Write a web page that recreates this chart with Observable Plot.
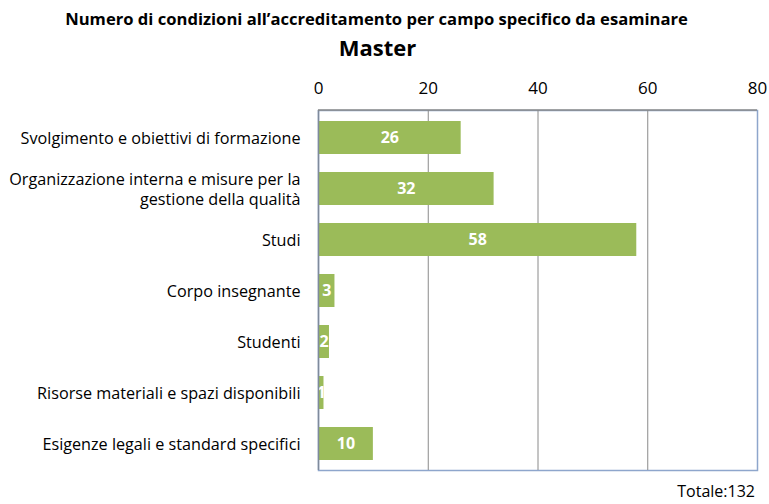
<!DOCTYPE html>
<html><head><meta charset="utf-8">
<script src="https://cdn.jsdelivr.net/npm/d3@7"></script>
<script src="https://cdn.jsdelivr.net/npm/@observablehq/plot@0.6"></script>
<style>
body{margin:0;background:#fff;font-family:"Open Sans",sans-serif;}
#t1{position:absolute;left:-8px;top:9px;width:769px;text-align:center;font-weight:bold;font-size:16.6px;line-height:20px;color:#000;white-space:nowrap;}
#t2{position:absolute;left:-7px;top:34px;width:769px;text-align:center;font-weight:bold;font-size:22px;line-height:26px;color:#000;}
#chart{position:absolute;left:0;top:60px;}
#tot{position:absolute;right:14px;top:483px;font-size:16px;line-height:17px;color:#000;}
</style></head>
<body>
<div id="t1">Numero di condizioni all’accreditamento per campo specifico da esaminare</div>
<div id="t2">Master</div>
<div id="chart"></div>
<div id="tot">Totale:132</div>
<script>
const categories = [
  "Svolgimento e obiettivi di formazione",
  "Organizzazione interna e misure per la\ngestione della qualità",
  "Studi",
  "Corpo insegnante",
  "Studenti",
  "Risorse materiali e spazi disponibili",
  "Esigenze legali e standard specifici"
];
const values = [26, 32, 58, 3, 2, 1, 10];
const xTicks = [0, 20, 40, 60, 80];

const data = categories.map((c, i) => ({cat: c, v: values[i]}));

const chart = Plot.plot({
  width: 769,
  height: 420,
  marginTop: 50,
  marginBottom: 10,
  marginLeft: 318,
  marginRight: 12,
  style: {fontFamily: "'Open Sans', sans-serif", background: "#fff", color: "#000"},
  x: {domain: [0, 80], ticks: xTicks},
  y: {domain: categories, paddingInner: 0.36, paddingOuter: 0.18},
  marks: [
    Plot.frame({stroke: "#8EA6CC", strokeWidth: 1.5}),
    Plot.ruleX([20, 40, 60], {stroke: "#8a8a8a", strokeWidth: 1}),
    Plot.barX(data, {x: "v", y: "cat", fill: "#9BBB59"}),
    Plot.text(data, {x: d => d.v / 2, y: "cat", text: d => String(d.v), fill: "#fff", fontWeight: "bold", fontSize: 16}),
    Plot.ruleX([0], {stroke: "#7f8a9c", strokeWidth: 1.5}),
    Plot.axisX({anchor: "top", ticks: xTicks, tickSize: 0, tickPadding: 17, fontSize: 17, label: null}),
    Plot.axisY({anchor: "left", tickSize: 0, tickPadding: 18, fontSize: 16.2, label: null, lineHeight: 1.23})
  ]
});
document.getElementById("chart").appendChild(chart);

// gray top edge of the plot frame
const xs = chart.scale("x");
d3.select(chart).append("line")
  .attr("x1", xs.apply(0)).attr("x2", xs.apply(80))
  .attr("y1", 50).attr("y2", 50)
  .attr("stroke", "#8a8a8a").attr("stroke-width", 1.5);
</script>
</body></html>
